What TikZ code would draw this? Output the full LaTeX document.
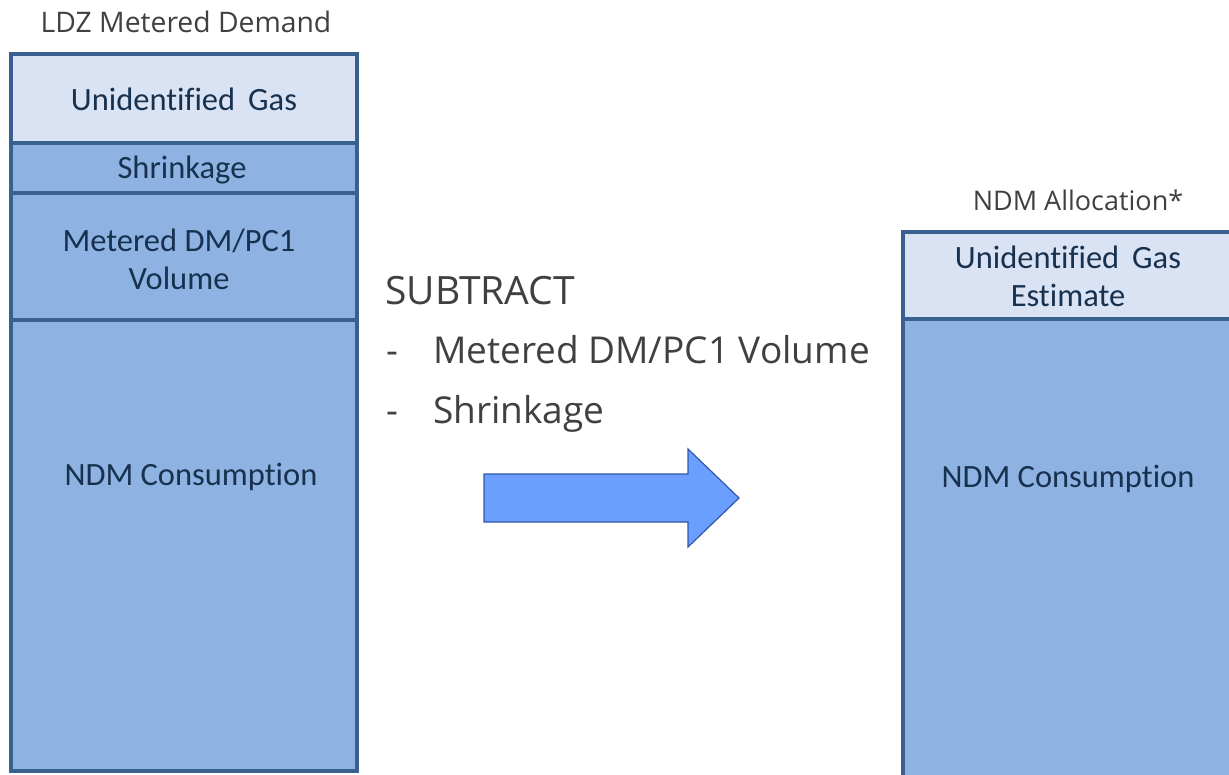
\documentclass[tikz,border=0pt]{standalone}
\usepackage{fontspec}
\setmainfont{Carlito}[RawFeature={-liga;-clig;-dlig}]
\newfontfamily\osans{Open Sans}
\definecolor{lightfill}{HTML}{DAE3F3}
\definecolor{midfill}{HTML}{8EB3E2}
\definecolor{boxborder}{HTML}{3A6090}
\definecolor{boxtext}{HTML}{17314F}
\definecolor{greytext}{HTML}{404040}
\definecolor{arrowfill}{HTML}{6A9EFF}
\definecolor{arrowline}{HTML}{3157A8}
\tikzset{
  layer/.style={draw=boxborder, line width=3.5pt, rectangle, anchor=north west, inner sep=0pt, outer sep=0pt},
  pale/.style={layer, fill=lightfill},
  mid/.style={layer, fill=midfill},
  boxlabel/.style={font=\fontsize{32.5}{38}\selectfont, text=boxtext, anchor=base, inner sep=0pt},
  title/.style={font=\osans\fontsize{27}{32}\selectfont, text=greytext, anchor=base, inner sep=0pt},
  bigtext/.style={font=\osans\fontsize{37}{44}\selectfont, text=greytext, anchor=base west, inner sep=0pt},
}
\begin{document}
\begin{tikzpicture}[x=1pt,y=-1pt]
\useasboundingbox (0,0) rectangle (1229,774);
\clip (0,0) rectangle (1229,774);
% left column
\node[mid, minimum width=346pt, minimum height=451pt] (lndm) at (11,320) {};
\node[mid, minimum width=346pt, minimum height=127pt] (lmet) at (11,193) {};
\node[mid, minimum width=346pt, minimum height=50pt] (lshr) at (11,143) {};
\node[pale, minimum width=346pt, minimum height=89pt] (lug) at (11,54) {};
\node[title, font=\osans\fontsize{28.3}{33}\selectfont] (ltitle) at (186,32) {LDZ Metered Demand};
\node[boxlabel] (tug) at (184,110) {Unidentified\hspace{0.4em}Gas};
\node[boxlabel] (tshr) at (182,178) {Shrinkage};
\node[boxlabel] (tmet1) at (179,251) {Metered DM/PC1};
\node[boxlabel] (tmet2) at (179,289) {Volume};
\node[boxlabel] (tndm) at (191,485) {NDM Consumption};
% right column
\node[mid, minimum width=340pt, minimum height=470pt] (rndm) at (903,319) {};
\node[pale, minimum width=340pt, minimum height=87pt] (rug) at (903,232) {};
\node[title] (rtitle) at (1078,210) {NDM Allocation*};
\node[boxlabel] (trug1) at (1068,268) {Unidentified\hspace{0.4em}Gas};
\node[boxlabel] (trug2) at (1068,306) {Estimate};
\node[boxlabel] (trndm) at (1068,487) {NDM Consumption};
% middle text
\node[bigtext, font=\osans\fontsize{39}{46}\selectfont] (sub) at (385,304) {SUBTRACT};
\node[bigtext] (d1) at (386,363) {-};
\node[bigtext] (l1) at (433,363) {Metered DM/PC1 Volume};
\node[bigtext] (d2) at (386,423) {-};
\node[bigtext] (l2) at (433,423) {Shrinkage};
% arrow
\draw[fill=arrowfill, draw=arrowline, line width=1.2pt, line join=miter]
  (484,474) -- (688,474) -- (688,449) -- (739,498) -- (688,547) -- (688,522) -- (484,522) -- cycle;
\end{tikzpicture}
\end{document}
